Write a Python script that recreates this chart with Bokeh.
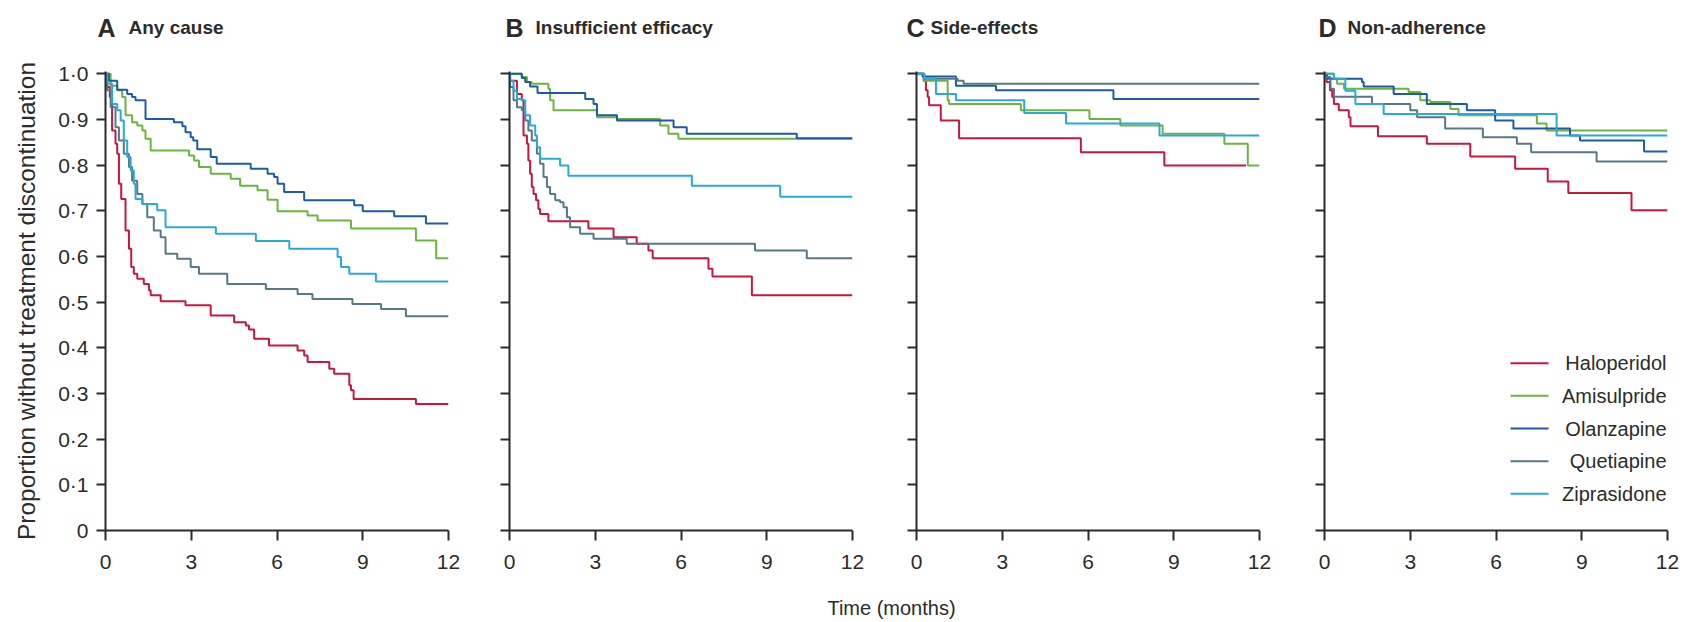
from bokeh.plotting import figure
from bokeh.layouts import row, column
from bokeh.models import Range1d, FixedTicker, Label, Arrow
from bokeh.embed import file_html
from bokeh.resources import INLINE

drugs = ["Haloperidol", "Amisulpride", "Olanzapine", "Quetiapine", "Ziprasidone"]
colors = ["#c8163f", "#6db43e", "#1c5ba6", "#577884", "#2aa9d9"]
panel_letters = ["A", "B", "C", "D"]
panel_titles = ["Any cause", "Insufficient efficacy", "Side-effects", "Non-adherence"]
x_ticks = [0, 3, 6, 9, 12]
x_tick_labels = ["0", "3", "6", "9", "12"]
y_ticks = [0, 0.1, 0.2, 0.3, 0.4, 0.5, 0.6, 0.7, 0.8, 0.9, 1.0]
y_tick_labels = ["0", "0·1", "0·2", "0·3", "0·4", "0·5", "0·6", "0·7", "0·8", "0·9", "1·0"]
x_title = "Time (months)"
y_title = "Proportion without treatment discontinuation"

# ---- Panel A: any cause ----
A_halo_t = [0, 0.06, 0.15, 0.23, 0.35, 0.41, 0.47, 0.55, 0.70, 0.82, 0.90, 0.99, 1.11, 1.34, 1.52, 1.58, 1.93, 2.80, 3.68, 4.50, 4.91, 5.02, 5.20, 5.72, 6.72, 6.95, 7.07, 7.83, 8.00, 8.53, 8.59, 8.68, 10.86, 12]
A_halo_s = [1.0, 0.971, 0.949, 0.876, 0.847, 0.825, 0.759, 0.726, 0.657, 0.617, 0.577, 0.562, 0.551, 0.540, 0.526, 0.515, 0.502, 0.493, 0.471, 0.456, 0.449, 0.440, 0.420, 0.405, 0.394, 0.383, 0.369, 0.354, 0.343, 0.318, 0.307, 0.288, 0.277, 0.277]
A_amis_t = [0, 0.18, 0.41, 0.58, 0.70, 0.93, 1.11, 1.29, 1.40, 1.58, 2.92, 3.10, 3.27, 3.68, 4.38, 4.71, 5.32, 5.67, 6.02, 7.07, 7.42, 8.59, 10.86, 11.57, 12]
A_amis_s = [1.0, 0.974, 0.964, 0.949, 0.909, 0.894, 0.887, 0.876, 0.858, 0.832, 0.821, 0.810, 0.796, 0.781, 0.770, 0.755, 0.745, 0.724, 0.699, 0.690, 0.679, 0.661, 0.635, 0.596, 0.596]
A_olan_t = [0, 0.12, 0.41, 0.76, 0.93, 1.05, 1.40, 2.39, 2.69, 2.80, 2.98, 3.07, 3.21, 3.68, 3.89, 5.08, 5.67, 5.90, 6.02, 6.25, 6.95, 8.70, 9.00, 10.10, 11.21, 12]
A_olan_s = [1.0, 0.985, 0.965, 0.956, 0.949, 0.942, 0.901, 0.894, 0.885, 0.872, 0.861, 0.854, 0.835, 0.818, 0.803, 0.792, 0.781, 0.774, 0.759, 0.741, 0.723, 0.712, 0.699, 0.688, 0.672, 0.672]
A_quet_t = [0, 0.06, 0.18, 0.35, 0.47, 0.64, 0.82, 0.93, 1.11, 1.29, 1.46, 1.69, 1.93, 2.10, 2.51, 2.98, 3.27, 4.26, 5.61, 6.72, 7.24, 8.64, 9.64, 10.51, 12]
A_quet_s = [1.0, 0.964, 0.927, 0.883, 0.854, 0.825, 0.796, 0.766, 0.737, 0.715, 0.686, 0.657, 0.642, 0.606, 0.595, 0.577, 0.562, 0.540, 0.529, 0.518, 0.507, 0.496, 0.485, 0.469, 0.469]
A_zipr_t = [0, 0.06, 0.23, 0.41, 0.53, 0.64, 0.76, 0.88, 0.99, 1.05, 1.29, 1.81, 2.10, 3.86, 5.26, 6.43, 8.12, 8.24, 8.53, 9.46, 12]
A_zipr_s = [1.0, 0.978, 0.934, 0.920, 0.898, 0.854, 0.818, 0.788, 0.759, 0.726, 0.715, 0.701, 0.664, 0.650, 0.634, 0.617, 0.599, 0.577, 0.562, 0.545, 0.545]

# ---- Panel B: insufficient efficacy ----
B_halo_t = [0, 0.02, 0.26, 0.43, 0.49, 0.61, 0.66, 0.72, 0.78, 0.84, 0.93, 1.01, 1.07, 1.36, 2.76, 3.64, 4.45, 4.86, 5.01, 6.96, 7.10, 8.48, 12]
B_halo_s = [1.0, 0.985, 0.956, 0.942, 0.865, 0.847, 0.810, 0.781, 0.752, 0.737, 0.723, 0.704, 0.693, 0.677, 0.661, 0.642, 0.628, 0.613, 0.596, 0.573, 0.556, 0.515, 0.515]
B_amis_t = [0, 0.43, 0.61, 0.78, 1.36, 1.42, 1.54, 3.06, 3.76, 5.27, 5.56, 5.91, 12]
B_amis_s = [1.0, 0.993, 0.982, 0.978, 0.967, 0.942, 0.920, 0.905, 0.901, 0.887, 0.869, 0.858, 0.858]
B_olan_t = [0, 0.43, 0.55, 0.72, 0.98, 2.65, 2.94, 3.06, 3.76, 5.74, 6.20, 10.05, 12]
B_olan_s = [1.0, 0.991, 0.982, 0.972, 0.958, 0.945, 0.934, 0.909, 0.898, 0.883, 0.869, 0.859, 0.859]
B_quet_t = [0, 0.02, 0.14, 0.26, 0.43, 0.55, 0.66, 0.78, 0.96, 1.07, 1.19, 1.31, 1.42, 1.60, 1.77, 1.89, 2.01, 2.12, 2.47, 2.94, 4.10, 8.59, 10.40, 12]
B_quet_s = [1.0, 0.971, 0.942, 0.927, 0.920, 0.898, 0.876, 0.854, 0.825, 0.803, 0.774, 0.752, 0.737, 0.723, 0.719, 0.708, 0.686, 0.664, 0.650, 0.639, 0.628, 0.613, 0.596, 0.596]
B_zipr_t = [0, 0.02, 0.14, 0.26, 0.43, 0.55, 0.72, 0.90, 0.96, 1.07, 1.77, 2.06, 6.38, 9.47, 12]
B_zipr_s = [1.0, 0.985, 0.963, 0.945, 0.942, 0.909, 0.887, 0.865, 0.839, 0.814, 0.799, 0.777, 0.755, 0.731, 0.731]

# ---- Panel C: side-effects ----
C_halo_t = [0, 0.25, 0.33, 0.39, 0.44, 0.85, 1.49, 5.75, 8.67, 11.53]
C_halo_s = [1.0, 0.985, 0.964, 0.949, 0.931, 0.898, 0.859, 0.828, 0.799, 0.799]
C_amis_t = [0, 0.27, 1.09, 1.14, 3.65, 6.05, 7.13, 8.61, 10.77, 11.59, 12]
C_amis_s = [1.0, 0.985, 0.942, 0.934, 0.920, 0.901, 0.887, 0.869, 0.847, 0.799, 0.799]
C_olan_t = [0, 0.21, 1.38, 2.78, 6.89, 12]
C_olan_s = [1.0, 0.994, 0.974, 0.964, 0.945, 0.945]
C_quet_t = [0, 0.27, 1.44, 1.65, 12]
C_quet_s = [1.0, 0.989, 0.985, 0.978, 0.978]
C_zipr_t = [0, 0.27, 0.68, 1.38, 3.77, 5.23, 8.50, 12]
C_zipr_s = [1.0, 0.991, 0.956, 0.942, 0.914, 0.891, 0.865, 0.865]

# ---- Panel D: non-adherence ----
D_halo_t = [0, 0.07, 0.19, 0.27, 0.33, 0.50, 0.85, 0.91, 1.87, 3.58, 5.10, 6.67, 7.81, 8.53, 10.74, 12]
D_halo_s = [1.0, 0.982, 0.964, 0.949, 0.934, 0.920, 0.905, 0.885, 0.863, 0.847, 0.819, 0.792, 0.764, 0.739, 0.701, 0.701]
D_amis_t = [0, 0.33, 0.44, 0.68, 2.94, 3.35, 3.70, 4.40, 4.69, 7.43, 7.77, 12]
D_amis_s = [1.0, 0.989, 0.978, 0.967, 0.960, 0.942, 0.938, 0.923, 0.909, 0.891, 0.876, 0.876]
D_olan_t = [0, 0.09, 1.31, 1.37, 2.42, 3.58, 4.98, 5.97, 6.61, 8.59, 8.94, 11.18, 12]
D_olan_s = [1.0, 0.989, 0.982, 0.972, 0.956, 0.934, 0.920, 0.898, 0.880, 0.865, 0.854, 0.830, 0.830]
D_quet_t = [0, 0.02, 0.21, 0.33, 1.66, 3.00, 3.24, 4.22, 5.54, 6.73, 7.23, 9.52, 12]
D_quet_s = [1.0, 0.993, 0.967, 0.950, 0.934, 0.920, 0.905, 0.880, 0.861, 0.847, 0.828, 0.808, 0.808]
D_zipr_t = [0, 0.33, 0.73, 1.08, 2.07, 8.12, 12]
D_zipr_s = [1.0, 0.989, 0.963, 0.934, 0.912, 0.865, 0.865]

panels = [
    [(A_halo_t, A_halo_s), (A_amis_t, A_amis_s), (A_olan_t, A_olan_s), (A_quet_t, A_quet_s), (A_zipr_t, A_zipr_s)],
    [(B_halo_t, B_halo_s), (B_amis_t, B_amis_s), (B_olan_t, B_olan_s), (B_quet_t, B_quet_s), (B_zipr_t, B_zipr_s)],
    [(C_halo_t, C_halo_s), (C_amis_t, C_amis_s), (C_olan_t, C_olan_s), (C_quet_t, C_quet_s), (C_zipr_t, C_zipr_s)],
    [(D_halo_t, D_halo_s), (D_amis_t, D_amis_s), (D_olan_t, D_olan_s), (D_quet_t, D_quet_s), (D_zipr_t, D_zipr_s)],
]

FONT = "Liberation Sans"
AXIS_COLOR = "#2b2b2b"
TEXT_COLOR = "#2b2b2b"
FRAME_W, FRAME_H = 343, 459
TOP_H = 61
BORDER_TOP, BORDER_BOTTOM = 10, 50
borders = [(105, 31), (30, 34), (30, 35), (30, 12)]
total_w = sum(b[0] + b[1] + FRAME_W for b in borders)

# panel titles drawn in a strip above the panels
letter_x = [97, 505, 906, 1318]
title_x = [128, 535, 930, 1347]
ptop = figure(width=total_w, height=TOP_H, x_range=Range1d(0, 1), y_range=Range1d(0, 1),
              x_axis_type=None, y_axis_type=None, output_backend="svg",
              toolbar_location=None, min_border=0)
ptop.outline_line_color = None
ptop.grid.visible = False
for i in range(4):
    ptop.add_layout(Label(x=letter_x[i], y=TOP_H - 27, x_units="screen", y_units="screen",
                          text=panel_letters[i], text_font=FONT, text_font_size="25px",
                          text_font_style="bold", text_color=TEXT_COLOR, text_baseline="middle"))
    ptop.add_layout(Label(x=title_x[i], y=TOP_H - 27, x_units="screen", y_units="screen",
                          text=panel_titles[i], text_font=FONT, text_font_size="19px",
                          text_font_style="bold", text_color=TEXT_COLOR, text_baseline="middle"))

figs = []
for i in range(4):
    bl, br = borders[i]
    p = figure(frame_width=FRAME_W, frame_height=FRAME_H,
               min_border_left=bl, min_border_right=br,
               min_border_top=BORDER_TOP, min_border_bottom=BORDER_BOTTOM,
               x_range=Range1d(0, 12), y_range=Range1d(0, FRAME_H / 456.7),
               output_backend="svg", toolbar_location=None)
    p.outline_line_color = None
    p.grid.visible = False
    p.background_fill_color = "white"
    p.border_fill_color = "white"

    for (t, s), c in zip(panels[i], colors):
        p.step(t, s, mode="after", line_color=c, line_width=2)

    xa = p.xaxis[0]
    xa.ticker = FixedTicker(ticks=x_ticks)
    xa.major_label_overrides = {v: l for v, l in zip(x_ticks, x_tick_labels)}
    ya = p.yaxis[0]
    ya.ticker = FixedTicker(ticks=y_ticks)
    if i == 0:
        ya.major_label_overrides = {v: l for v, l in zip(y_ticks, y_tick_labels)}
        ya.axis_label = y_title
        ya.axis_label_text_font = FONT
        ya.axis_label_text_font_size = "24.5px"
        ya.axis_label_text_font_style = "normal"
        ya.axis_label_text_color = TEXT_COLOR
        ya.axis_label_standoff = 15
        ya.major_label_standoff = 8
    else:
        ya.major_label_overrides = {v: "" for v in y_ticks}
        ya.major_label_standoff = 0
    for ax in (xa, ya):
        ax.axis_line_color = AXIS_COLOR
        ax.axis_line_width = 2
        ax.major_tick_line_color = AXIS_COLOR
        ax.major_tick_line_width = 2
        ax.major_tick_in = 0
        ax.minor_tick_line_color = None
        ax.major_label_text_font = FONT
        ax.major_label_text_font_size = "21px"
        ax.major_label_text_color = TEXT_COLOR
    ya.major_tick_out = 9
    xa.major_tick_out = 10
    xa.major_label_standoff = 14
    figs.append(p)

# key in panel D: coloured line + right-aligned drug name (offsets from frame corner)
pD = figs[3]
key_top, key_step = 167.3, 32.65
for k, (d, c) in enumerate(zip(drugs, colors)):
    yk = key_top - key_step * k
    pD.add_layout(Arrow(end=None, x_start=186, y_start=yk, x_end=224, y_end=yk,
                        start_units="screen", end_units="screen",
                        line_color=c, line_width=2))
    pD.add_layout(Label(x=342, y=yk, x_units="screen", y_units="screen", text=d,
                        text_font=FONT, text_font_size="20px", text_color=TEXT_COLOR,
                        text_align="right", text_baseline="middle"))

# shared x title
pt = figure(width=total_w, height=40, x_range=Range1d(0, 1), y_range=Range1d(0, 1),
            x_axis_type=None, y_axis_type=None, output_backend="svg",
            toolbar_location=None, min_border=0)
pt.outline_line_color = None
pt.grid.visible = False
pt.add_layout(Label(x=891, y=13, x_units="screen", y_units="screen", text=x_title,
                    text_font=FONT, text_font_size="20px", text_color=TEXT_COLOR,
                    text_align="center", text_baseline="middle"))

layout = column(ptop, row(*figs, spacing=0), pt, spacing=0)
open("out.html", "w").write(file_html(layout, INLINE))
